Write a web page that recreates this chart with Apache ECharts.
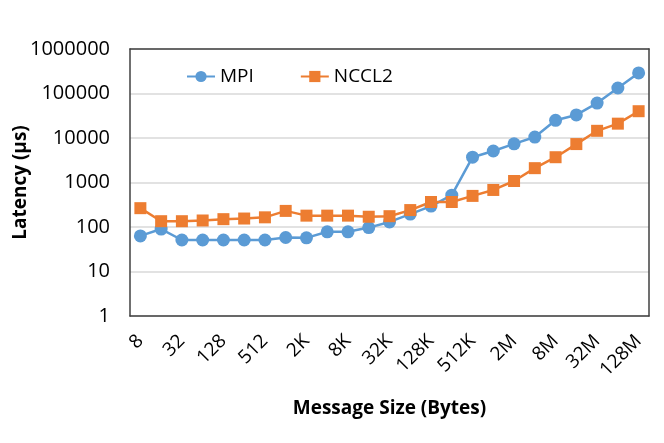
<!DOCTYPE html>
<html>
<head>
<meta charset="utf-8">
<script src="https://cdn.jsdelivr.net/npm/echarts@6/dist/echarts.min.js"></script>
<style>
  html, body { margin: 0; padding: 0; background: #fff; }
  #chart { width: 664px; height: 443px; }
</style>
</head>
<body>
<div id="chart"></div>
<script>
// 消息大小（类别）
const sizes = ['8', '16', '32', '64', '128', '256', '512', '1K', '2K', '4K', '8K', '16K', '32K',
  '64K', '128K', '256K', '512K', '1M', '2M', '4M', '8M', '16M', '32M', '64M', '128M'];

// 延迟数据 (µs)
const mpi = [63, 90, 51, 51, 51, 51, 51, 58, 57, 78, 78, 97, 130, 195, 295, 520, 3700, 5100,
  7400, 10500, 25000, 33000, 61000, 133000, 290000];
const nccl2 = [265, 135, 135, 140, 150, 155, 165, 230, 180, 180, 180, 170, 175, 240, 365, 365,
  500, 680, 1080, 2100, 3700, 7300, 14500, 21000, 40000];

const font = 'Open Sans';
const frame = { show: true, onZero: false, lineStyle: { color: '#404040', width: 1.5 } };

const chart = echarts.init(document.getElementById('chart'));

const option = {
  animation: false,
  textStyle: { fontFamily: font },
  grid: { left: 130, right: 15, top: 49, bottom: 127, outerBoundsMode: 'none', containLabel: false },
  legend: {
    top: 62, left: 181,
    itemGap: 46, itemWidth: 28, itemHeight: 14,
    textStyle: { fontSize: 19, color: '#000', fontFamily: font },
    data: ['MPI', 'NCCL2']
  },
  xAxis: [
    {
      type: 'category',
      data: sizes,
      boundaryGap: true,
      name: 'Message Size (Bytes)',
      nameLocation: 'middle',
      nameGap: 83,
      nameMoveOverlap: false,
      nameTextStyle: { fontSize: 19, fontWeight: 'bold', color: '#000', fontFamily: font },
      axisLine: frame,
      axisTick: { show: false },
      axisLabel: { interval: 1, rotate: 45, fontSize: 19, color: '#000', margin: 22, fontFamily: font },
      splitLine: { show: false }
    },
    {
      type: 'category',
      data: sizes,
      position: 'top',
      axisLine: frame,
      axisTick: { show: false },
      axisLabel: { show: false },
      splitLine: { show: false }
    }
  ],
  yAxis: [
    {
      type: 'log',
      logBase: 10,
      min: 1,
      max: 1000000,
      name: 'Latency (µs)',
      nameLocation: 'middle',
      nameGap: 100,
      nameMoveOverlap: false,
      nameTextStyle: { fontSize: 19, fontWeight: 'bold', color: '#000', fontFamily: font },
      axisLine: frame,
      axisTick: { show: false },
      axisLabel: { fontSize: 20, color: '#000', margin: 20, fontFamily: font, formatter: v => String(Math.round(v)) },
      splitLine: { lineStyle: { color: '#d9d9d9', width: 1.5 } }
    },
    {
      type: 'log',
      logBase: 10,
      min: 1,
      max: 1000000,
      position: 'right',
      axisLine: frame,
      axisTick: { show: false },
      axisLabel: { show: false },
      splitLine: { show: false }
    }
  ],
  series: [
    {
      name: 'MPI',
      type: 'line',
      data: mpi,
      symbol: 'circle',
      symbolSize: 13,
      lineStyle: { color: '#5B9BD5', width: 2.5 },
      itemStyle: { color: '#5B9BD5' }
    },
    {
      name: 'NCCL2',
      type: 'line',
      data: nccl2,
      symbol: 'rect',
      symbolSize: 12,
      lineStyle: { color: '#ED7D31', width: 2.5 },
      itemStyle: { color: '#ED7D31' }
    }
  ]
};

chart.setOption(option);
</script>
</body>
</html>
